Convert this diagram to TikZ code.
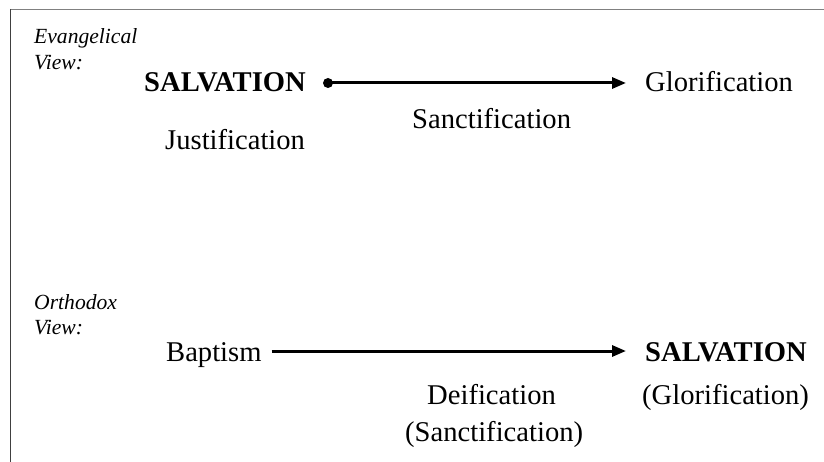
\documentclass[tikz,border=0pt]{standalone}
\usepackage{fontspec}
\setmainfont{Liberation Serif}
\usetikzlibrary{arrows.meta}
\begin{document}
\begin{tikzpicture}[x=1pt,y=-1pt,
  big/.style={anchor=base west,inner sep=0pt,font=\fontsize{28.6pt}{30pt}\selectfont},
  bigb/.style={big,font=\fontsize{28.6pt}{30pt}\selectfont\bfseries},
  lab/.style={anchor=base west,inner sep=0pt,align=left,font=\fontsize{21.6pt}{26pt}\selectfont\itshape},
  conn/.style={line width=3pt,-{Triangle[length=14pt,width=11pt]}},
  dotnode/.style={circle,fill=black,inner sep=0pt,minimum size=10pt}]
\useasboundingbox (0,0) rectangle (824,462);
\fill[white] (0,0) rectangle (824,462);
% frame
\draw[line width=1.5pt,color=black!50] (10,9.5) -- (824,9.5);
\draw[line width=1.5pt,color=black!75] (10.5,9) -- (10.5,462);
% Evangelical
\node[lab] (ev1) at (34,44) {Evangelical};
\node[lab] (ev2) at (34,70) {View:};
\node[bigb] (sal1) at (144,92) {SALVATION};
\node[dotnode] (dot) at (328,83) {};
\node[big] (glor) at (645,92) {Glorification};
\node[big] (sanc) at (412,129) {Sanctification};
\node[big] (just) at (165,150) {Justification};
\draw[conn,shorten >=19pt] (dot.center) -- (dot.center -| glor.west);
% Orthodox
\node[lab] (or1) at (34,309) {Orthodox};
\node[lab] (or2) at (34,334) {View:};
\node[big] (bap) at (166,361) {Baptism};
\node[bigb] (sal2) at (645,361) {SALVATION};
\node[big] (glor2) at (642,404) {(Glorification)};
\node[big] (deif) at (427,404) {Deification};
\node[big] (sanc2) at (405,441) {(Sanctification)};
\coordinate (ay) at (0,351);
\draw[conn,shorten <=10pt,shorten >=19pt] (bap.east |- ay) -- (sal2.west |- ay);
\end{tikzpicture}
\end{document}
